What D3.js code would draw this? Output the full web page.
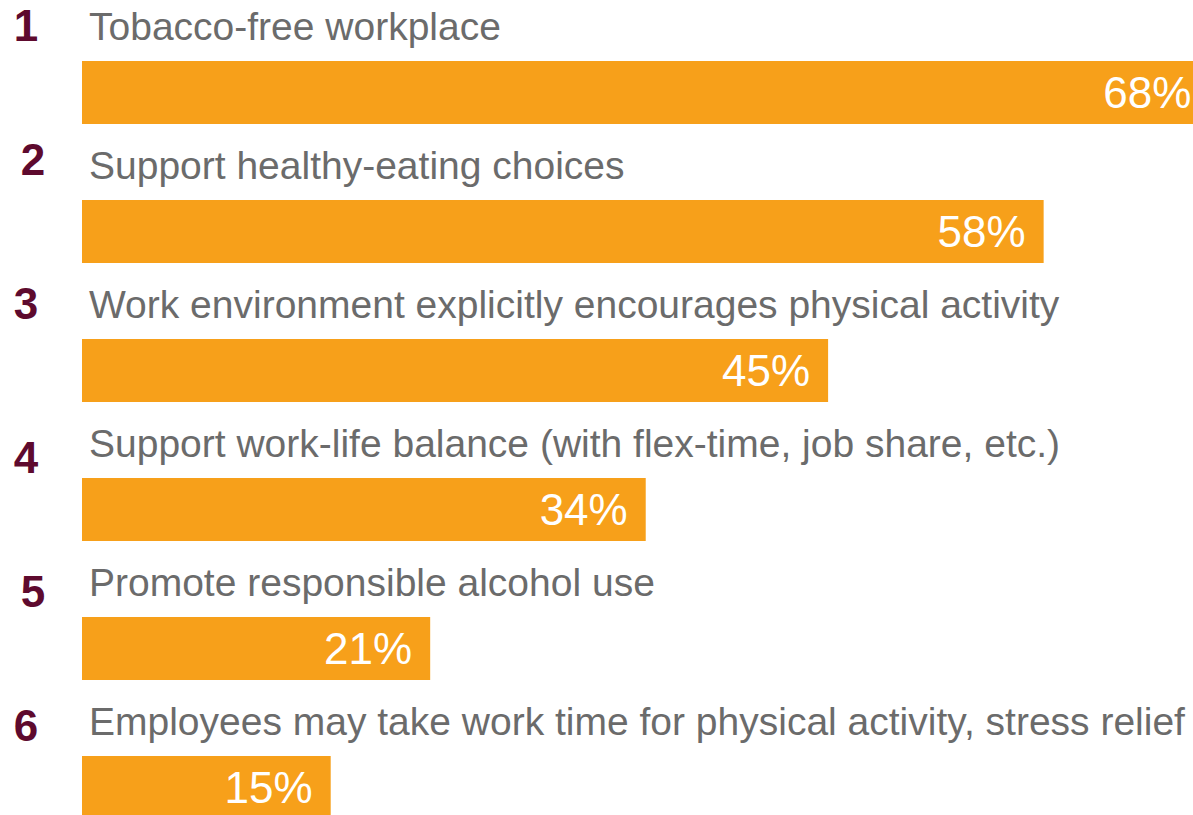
<!DOCTYPE html>
<html>
<head>
<meta charset="utf-8">
<script src="https://cdn.jsdelivr.net/npm/d3@7"></script>
<style>
  html, body { margin: 0; padding: 0; background: #ffffff; }
  svg { display: block; }
</style>
</head>
<body>
<svg id="chart" width="1193" height="815"></svg>
<script>
// Ranked workplace health practices and share of employers reporting each
const ranks = ["1", "2", "3", "4", "5", "6"];
const categories = [
  "Tobacco-free workplace",
  "Support healthy-eating choices",
  "Work environment explicitly encourages physical activity",
  "Support work-life balance (with flex-time, job share, etc.)",
  "Promote responsible alcohol use",
  "Employees may take work time for physical activity, stress relief"
];
const values = [68, 58, 45, 34, 21, 15];

const W = 1193, H = 815;
const svg = d3.select("#chart");

const barColor = "#F7A01A";
const rankColor = "#5E0A2E";
const labelColor = "#6B6B6B";
const fontFamily = "'Liberation Sans', Arial, Helvetica, sans-serif";

const x = d3.scaleLinear().domain([0, 100]).range([82, 82 + 1658]);
const y = d3.scaleBand()
  .domain(categories)
  .range([61, 61 + 6 * 139 - 76])
  .paddingInner(76 / 139)
  .paddingOuter(0);

// Small hand-set nudges for the rank numerals, which sit slightly off-grid
const rankNudgeX = [0, 7, 0, 0, 7, 0];
const rankNudgeY = [1, -4, 1, 16, 11, 6];

const rows = categories.map((c, i) => ({ cat: c, rank: ranks[i], value: values[i], i }));

const g = svg.append("g");

g.selectAll("rect.bar")
  .data(rows)
  .join("rect")
  .attr("class", "bar")
  .attr("x", x(0))
  .attr("y", d => y(d.cat))
  .attr("width", d => x(d.value) - x(0))
  .attr("height", y.bandwidth())
  .attr("fill", barColor);

g.selectAll("text.value")
  .data(rows)
  .join("text")
  .attr("class", "value")
  .attr("x", d => x(d.value) - 18)
  .attr("y", d => y(d.cat) + y.bandwidth() / 2 + 15.5)
  .attr("text-anchor", "end")
  .attr("font-family", fontFamily)
  .attr("font-size", 44)
  .attr("fill", "#ffffff")
  .text(d => d.value + "%");

g.selectAll("text.cat")
  .data(rows)
  .join("text")
  .attr("class", "cat")
  .attr("x", 89)
  .attr("y", d => y(d.cat) - 21)
  .attr("font-family", fontFamily)
  .attr("font-size", 39)
  .attr("fill", labelColor)
  .text(d => d.cat);

g.selectAll("text.rank")
  .data(rows)
  .join("text")
  .attr("class", "rank")
  .attr("x", d => 26 + rankNudgeX[d.i])
  .attr("y", d => y(d.cat) - 21 + rankNudgeY[d.i])
  .attr("text-anchor", "middle")
  .attr("font-family", fontFamily)
  .attr("font-weight", "bold")
  .attr("font-size", 44)
  .attr("fill", rankColor)
  .text(d => d.rank);
</script>
</body>
</html>
